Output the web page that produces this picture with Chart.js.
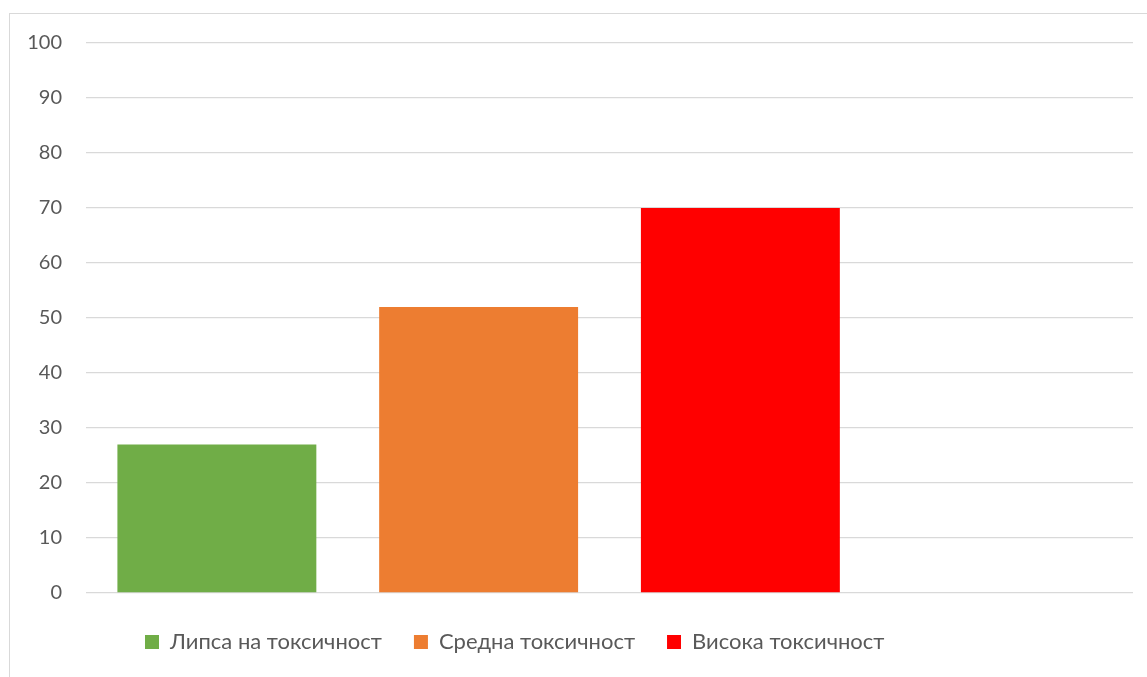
<!DOCTYPE html>
<html>
<head>
<meta charset="utf-8">
<script src="https://cdn.jsdelivr.net/npm/chart.js@4"></script>
<style>
  html, body { margin: 0; padding: 0; background: #fff; overflow: hidden; }
  #frame { position: absolute; left: 9px; top: 13px; width: 1160px; height: 700px; border: 1px solid #d9d9d9; box-sizing: border-box; }
  #wrap { position: absolute; left: 0; top: 0; width: 1147px; height: 677px; }
</style>
</head>
<body>
<div id="frame"></div>
<div id="wrap"><canvas id="c" width="1147" height="677"></canvas></div>
<script>
const categories = ["", "", "", ""];
const seriesNames = ["Липса на токсичност", "Средна токсичност", "Висока токсичност"];
const seriesColors = ["#70ad47", "#ed7d31", "#ff0000"];
const lipsaValues = [27, null, null, null];
const srednaValues = [null, 52, null, null];
const visokaValues = [null, null, 70, null];
const yTicks = [0, 10, 20, 30, 40, 50, 60, 70, 80, 90, 100];

const seriesValues = [lipsaValues, srednaValues, visokaValues];
const FONT = "Lato";
const TEXT = "#595959";

const legendShift = {
  id: "legendShift",
  afterLayout(chart) {
    const l = chart.legend;
    if (!l) return;
    l.left += 113; l.right += 113;
    l.top += 6; l.bottom += 6;
  }
};

new Chart(document.getElementById("c"), {
  type: "bar",
  data: {
    labels: categories,
    datasets: seriesNames.map((n, i) => ({
      label: n,
      data: seriesValues[i],
      backgroundColor: seriesColors[i],
      borderWidth: 0,
      categoryPercentage: 1,
      barPercentage: 0.76
    }))
  },
  plugins: [legendShift],
  options: {
    responsive: false,
    animation: false,
    devicePixelRatio: 1,
    layout: { padding: { left: 0, right: 14, top: 43, bottom: 20 } },
    plugins: {
      tooltip: { enabled: false },
      legend: {
        position: "bottom",
        align: "start",
        labels: {
          boxWidth: 14, boxHeight: 14,
          padding: 32,
          color: TEXT,
          font: { family: FONT, size: 22 }
        }
      }
    },
    scales: {
      x: {
        stacked: true,
        grid: { display: false },
        border: { display: false },
        ticks: { display: false },
        afterFit: (s) => { s.height = 0; }
      },
      y: {
        stacked: true,
        min: 0, max: 100,
        afterBuildTicks: (s) => { s.ticks = yTicks.map(v => ({ value: v })); },
        grid: { color: "#d9d9d9", lineWidth: 1.3, drawTicks: false },
        border: { display: false },
        ticks: { color: TEXT, font: { family: FONT, size: 20 }, padding: 24 },
        afterFit: (s) => { s.width = 86; }
      }
    }
  }
});
</script>
</body>
</html>
